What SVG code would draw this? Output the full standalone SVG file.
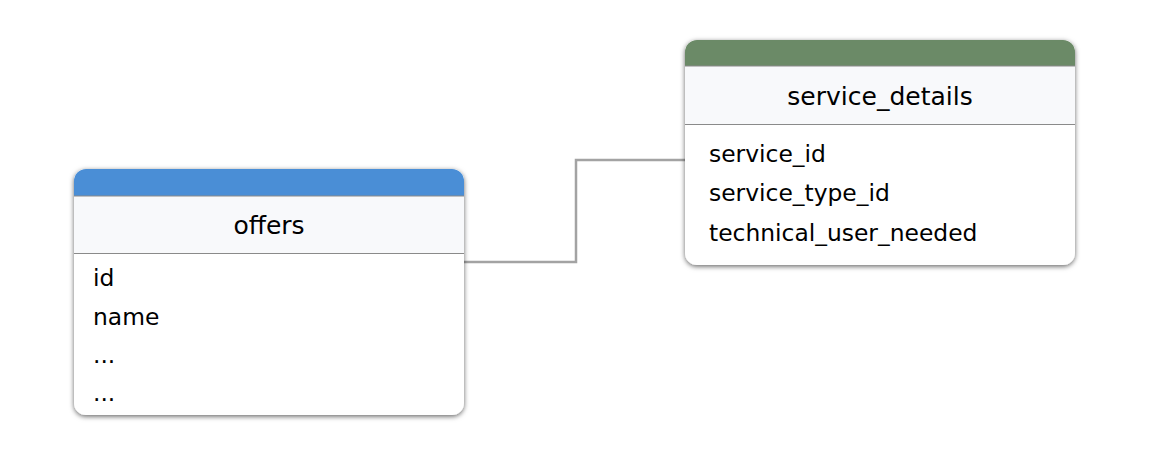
<svg xmlns="http://www.w3.org/2000/svg" width="1152" height="476" viewBox="0 0 1152 476">
<style>
.t{font-family:"DejaVu Sans",Verdana,sans-serif;font-size:23.4px;fill:#000}
.h{font-size:25px;text-anchor:middle}
.band{fill:#f8f9fb}
.div{stroke:#8a8a8a;stroke-width:1}
.box{fill:#fff}
.conn{fill:none;stroke:#a3a3a3;stroke-width:2.5}
</style>
<defs>
<filter id="sh" x="-10%" y="-10%" width="120%" height="120%">
<feDropShadow dx="0" dy="1.5" stdDeviation="2.5" flood-color="#000" flood-opacity="0.6"/>
</filter>
<clipPath id="c1"><rect x="74" y="169" width="390" height="246" rx="12"/></clipPath>
<clipPath id="c2"><rect x="685" y="40" width="390" height="225" rx="12"/></clipPath>
</defs>
<g id="connectors">
<path class="conn" d="M464,262 H576 V160 H685"/>
</g>
<g id="offers">
<rect class="box" x="74" y="169" width="390" height="246" rx="12" filter="url(#sh)"/>
<g clip-path="url(#c1)">
<rect x="74" y="169" width="390" height="27" fill="#4a8ed6"/>
<rect class="band" x="74" y="196" width="390" height="57"/>
<line class="div" x1="74" y1="196" x2="464" y2="196"/>
<line class="div" x1="74" y1="253.5" x2="464" y2="253.5"/>
</g>
<text class="t h" x="269" y="234">offers</text>
<text class="t" x="93" y="286">id</text>
<text class="t" x="93" y="325">name</text>
<text class="t" x="93" y="363">...</text>
<text class="t" x="93" y="401">...</text>
</g>
<g id="service_details">
<rect class="box" x="685" y="40" width="390" height="225" rx="12" filter="url(#sh)"/>
<g clip-path="url(#c2)">
<rect x="685" y="40" width="390" height="26" fill="#6b8a67"/>
<rect class="band" x="685" y="66" width="390" height="58"/>
<line class="div" x1="685" y1="66" x2="1075" y2="66"/>
<line class="div" x1="685" y1="124.5" x2="1075" y2="124.5"/>
</g>
<text class="t h" x="880" y="105">service_details</text>
<text class="t" x="709" y="162">service_id</text>
<text class="t" x="709" y="201">service_type_id</text>
<text class="t" x="709" y="241">technical_user_needed</text>
</g>
</svg>
